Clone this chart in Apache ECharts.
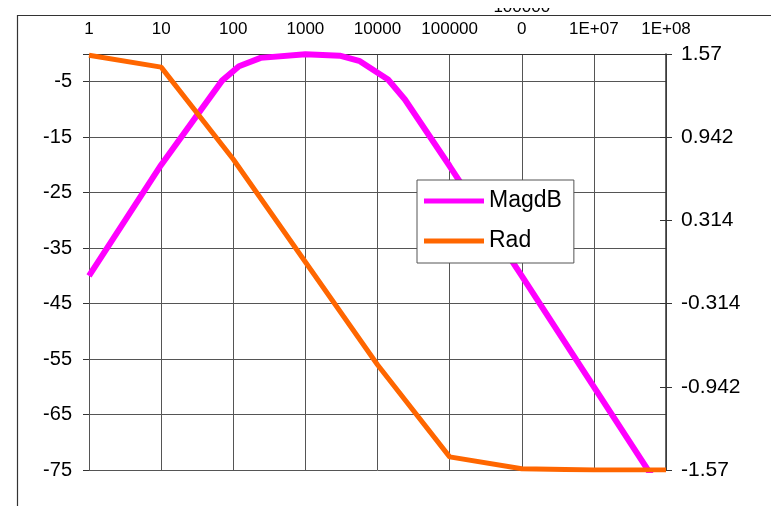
<!DOCTYPE html>
<html>
<head>
<meta charset="utf-8">
<script src="https://cdn.jsdelivr.net/npm/echarts@6/dist/echarts.min.js"></script>
<style>
  html, body { margin: 0; padding: 0; background: #fff; }
  #chart { width: 771px; height: 506px; }
</style>
</head>
<body>
<div id="chart"></div>
<script>
// frequency decades shown on the top axis
const xTickLabels = ['1', '10', '100', '1000', '10000', '100000', '100000\n0', '1E+07', '1E+08'];

// magnitude (dB), left axis
const magFreq = [1, 10, 70, 120, 240, 1000, 3000, 5700, 14000, 24000, 100000, 1000000, 10000000, 100000000];
const magDb = [-40, -20, -4.8, -2.2, -0.7, -0.05, -0.3, -1.3, -4.6, -8.2, -20.2, -40, -60, -80];

// phase (rad), right axis
const radFreq = [1, 10, 100, 1000, 10000, 100000, 1000000, 10000000, 100000000];
const radVal = [1.561, 1.471, 0.776, 0, -0.776, -1.471, -1.561, -1.57, -1.57];

const leftTicks = [-75, -65, -55, -45, -35, -25, -15, -5];
const rightTicks = [-1.57, -0.942, -0.314, 0.314, 0.942, 1.57];

const font = 'Liberation Sans, Arial, sans-serif';
const chart = echarts.init(document.getElementById('chart'));

const option = {
  backgroundColor: '#fff',
  animation: false,
  grid: { left: 89, right: 105, top: 54, bottom: 36, containLabel: false, outerBoundsMode: 'none' },
  legend: {
    left: 417, top: 180,
    orient: 'vertical',
    padding: [8, 12, 9, 7],
    itemGap: 14,
    itemWidth: 60, itemHeight: 5,
    icon: 'rect',
    backgroundColor: '#fff',
    borderColor: '#555', borderWidth: 1,
    textStyle: { fontFamily: font, fontSize: 23, color: '#000', lineHeight: 26 },
    data: ['MagdB', 'Rad']
  },
  xAxis: {
    type: 'log', logBase: 10, position: 'top',
    min: 1, max: 100000000, interval: 1,
    axisLine: { show: true, lineStyle: { color: '#333', width: 1 } },
    axisTick: { show: false },
    axisLabel: {
      margin: 14, fontFamily: font, fontSize: 17, color: '#000', lineHeight: 22,
      showMinLabel: true, showMaxLabel: true,
      formatter: v => xTickLabels[Math.round(Math.log10(v))] ?? ''
    },
    splitLine: { show: true, lineStyle: { color: '#555', width: 1 } }
  },
  yAxis: [
    {
      type: 'value', min: -75, max: 0, position: 'left',
      axisLine: { show: false },
      axisTick: { show: false },
      splitLine: { show: false },
      axisLabel: { customValues: leftTicks, margin: 17, fontFamily: font, fontSize: 20, color: '#000' }
    },
    {
      type: 'value', min: -1.57, max: 1.57, position: 'right',
      axisLine: { show: true, lineStyle: { color: '#333', width: 1.5 } },
      axisTick: { show: true, customValues: rightTicks, length: 6, lineStyle: { color: '#333' } },
      splitLine: { show: false },
      axisLabel: {
        customValues: rightTicks, margin: 15, fontFamily: font, fontSize: 21, color: '#000',
        formatter: v => String(Math.round(v * 1000) / 1000)
      }
    },
    {
      // horizontal grid every 10 dB measured up from -75
      type: 'value', min: 0, max: 75, interval: 10, position: 'left',
      axisLine: { show: false },
      axisLabel: { show: false },
      axisTick: { show: true, length: 6, lineStyle: { color: '#333' } },
      splitLine: { show: true, lineStyle: { color: '#555', width: 1 } }
    },
    {
      // inner half of the crossing ticks on the right axis
      type: 'value', min: -1.57, max: 1.57, position: 'right',
      axisLine: { show: false },
      axisLabel: { show: false },
      axisTick: { show: true, inside: true, customValues: rightTicks, length: 6, lineStyle: { color: '#333' } },
      splitLine: { show: false }
    }
  ],
  series: [
    {
      name: 'MagdB', type: 'line', yAxisIndex: 0,
      data: magFreq.map((f, i) => [f, magDb[i]]),
      showSymbol: false, clip: true,
      color: '#ff00ff',
      lineStyle: { color: '#ff00ff', width: 6 }
    },
    {
      name: 'Rad', type: 'line', yAxisIndex: 1,
      data: radFreq.map((f, i) => [f, radVal[i]]),
      showSymbol: false, clip: true,
      color: '#ff6600',
      lineStyle: { color: '#ff6600', width: 5 }
    }
  ],
  graphic: [
    {
      type: 'rect', z: 100, silent: true,
      shape: { x: 0, y: 0, width: 771, height: 8 },
      style: { fill: '#fff' }
    },
    {
      type: 'rect', z: 100, silent: true,
      shape: { x: 17.5, y: 15.5, width: 900, height: 600 },
      style: { fill: 'none', stroke: '#333', lineWidth: 1.2 }
    }
  ]
};

chart.setOption(option);
</script>
</body>
</html>
